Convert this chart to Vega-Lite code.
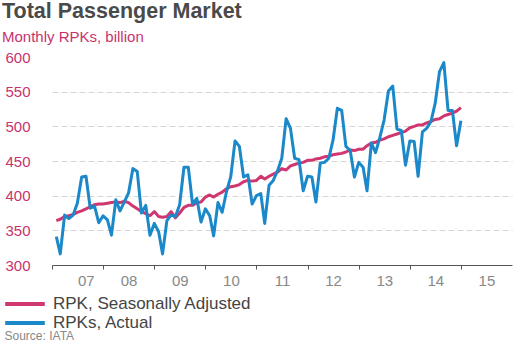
{
  "$schema": "https://vega.github.io/schema/vega-lite/v6.json",
  "autosize": "none",
  "width": 460,
  "height": 208,
  "padding": {"left": 52, "top": 57, "right": 8, "bottom": 90},
  "background": "white",
  "title": {
    "text": "Total Passenger Market",
    "subtitle": "Monthly RPKs, billion",
    "anchor": "start",
    "frame": "group",
    "dx": -50,
    "offset": 5,
    "font": "Liberation Sans",
    "fontSize": 21.5,
    "fontWeight": "bold",
    "color": "#4a4a4a",
    "subtitleFont": "Liberation Sans",
    "subtitleFontSize": 15,
    "subtitleColor": "#c7336e",
    "subtitlePadding": 8
  },
  "data": {
    "values": [
      {"date": "2007-01-01", "sa": 364, "actual": 341},
      {"date": "2007-02-01", "sa": 366, "actual": 316},
      {"date": "2007-03-01", "sa": 370, "actual": 372},
      {"date": "2007-04-01", "sa": 371, "actual": 367},
      {"date": "2007-05-01", "sa": 373, "actual": 372},
      {"date": "2007-06-01", "sa": 376, "actual": 389},
      {"date": "2007-07-01", "sa": 378, "actual": 427},
      {"date": "2007-08-01", "sa": 381, "actual": 428},
      {"date": "2007-09-01", "sa": 384, "actual": 382},
      {"date": "2007-10-01", "sa": 387, "actual": 385},
      {"date": "2007-11-01", "sa": 388, "actual": 361},
      {"date": "2007-12-01", "sa": 388, "actual": 371},
      {"date": "2008-01-01", "sa": 389, "actual": 365},
      {"date": "2008-02-01", "sa": 390, "actual": 343},
      {"date": "2008-03-01", "sa": 391, "actual": 394},
      {"date": "2008-04-01", "sa": 390, "actual": 378},
      {"date": "2008-05-01", "sa": 392, "actual": 391},
      {"date": "2008-06-01", "sa": 390, "actual": 404},
      {"date": "2008-07-01", "sa": 385, "actual": 439},
      {"date": "2008-08-01", "sa": 381, "actual": 435},
      {"date": "2008-09-01", "sa": 377, "actual": 375},
      {"date": "2008-10-01", "sa": 374, "actual": 386},
      {"date": "2008-11-01", "sa": 371, "actual": 343},
      {"date": "2008-12-01", "sa": 377, "actual": 360},
      {"date": "2009-01-01", "sa": 370, "actual": 348},
      {"date": "2009-02-01", "sa": 369, "actual": 316},
      {"date": "2009-03-01", "sa": 370, "actual": 364},
      {"date": "2009-04-01", "sa": 377, "actual": 372},
      {"date": "2009-05-01", "sa": 368, "actual": 370},
      {"date": "2009-06-01", "sa": 375, "actual": 387},
      {"date": "2009-07-01", "sa": 383, "actual": 441},
      {"date": "2009-08-01", "sa": 386, "actual": 441},
      {"date": "2009-09-01", "sa": 386, "actual": 388},
      {"date": "2009-10-01", "sa": 390, "actual": 396},
      {"date": "2009-11-01", "sa": 391, "actual": 362},
      {"date": "2009-12-01", "sa": 398, "actual": 381},
      {"date": "2010-01-01", "sa": 401, "actual": 371},
      {"date": "2010-02-01", "sa": 398, "actual": 342},
      {"date": "2010-03-01", "sa": 402, "actual": 390},
      {"date": "2010-04-01", "sa": 405, "actual": 376},
      {"date": "2010-05-01", "sa": 410, "actual": 406},
      {"date": "2010-06-01", "sa": 413, "actual": 427},
      {"date": "2010-07-01", "sa": 414, "actual": 479},
      {"date": "2010-08-01", "sa": 416, "actual": 471},
      {"date": "2010-09-01", "sa": 420, "actual": 427},
      {"date": "2010-10-01", "sa": 422, "actual": 430},
      {"date": "2010-11-01", "sa": 421, "actual": 388},
      {"date": "2010-12-01", "sa": 422, "actual": 400},
      {"date": "2011-01-01", "sa": 428, "actual": 403},
      {"date": "2011-02-01", "sa": 424, "actual": 360},
      {"date": "2011-03-01", "sa": 428, "actual": 415},
      {"date": "2011-04-01", "sa": 431, "actual": 422},
      {"date": "2011-05-01", "sa": 434, "actual": 436},
      {"date": "2011-06-01", "sa": 439, "actual": 454},
      {"date": "2011-07-01", "sa": 437, "actual": 511},
      {"date": "2011-08-01", "sa": 443, "actual": 497},
      {"date": "2011-09-01", "sa": 445, "actual": 454},
      {"date": "2011-10-01", "sa": 447, "actual": 452},
      {"date": "2011-11-01", "sa": 448, "actual": 407},
      {"date": "2011-12-01", "sa": 451, "actual": 428},
      {"date": "2012-01-01", "sa": 451, "actual": 427},
      {"date": "2012-02-01", "sa": 453, "actual": 391},
      {"date": "2012-03-01", "sa": 454, "actual": 447},
      {"date": "2012-04-01", "sa": 456, "actual": 448},
      {"date": "2012-05-01", "sa": 457, "actual": 454},
      {"date": "2012-06-01", "sa": 459, "actual": 480},
      {"date": "2012-07-01", "sa": 460, "actual": 526},
      {"date": "2012-08-01", "sa": 461, "actual": 523},
      {"date": "2012-09-01", "sa": 463, "actual": 471},
      {"date": "2012-10-01", "sa": 466, "actual": 465},
      {"date": "2012-11-01", "sa": 465, "actual": 427},
      {"date": "2012-12-01", "sa": 467, "actual": 448},
      {"date": "2013-01-01", "sa": 467, "actual": 441},
      {"date": "2013-02-01", "sa": 472, "actual": 407},
      {"date": "2013-03-01", "sa": 476, "actual": 476},
      {"date": "2013-04-01", "sa": 477, "actual": 462},
      {"date": "2013-05-01", "sa": 480, "actual": 484},
      {"date": "2013-06-01", "sa": 482, "actual": 509},
      {"date": "2013-07-01", "sa": 485, "actual": 551},
      {"date": "2013-08-01", "sa": 487, "actual": 558},
      {"date": "2013-09-01", "sa": 489, "actual": 496},
      {"date": "2013-10-01", "sa": 491, "actual": 494},
      {"date": "2013-11-01", "sa": 493, "actual": 444},
      {"date": "2013-12-01", "sa": 498, "actual": 479},
      {"date": "2014-01-01", "sa": 500, "actual": 478},
      {"date": "2014-02-01", "sa": 502, "actual": 428},
      {"date": "2014-03-01", "sa": 502, "actual": 492},
      {"date": "2014-04-01", "sa": 505, "actual": 497},
      {"date": "2014-05-01", "sa": 507, "actual": 507},
      {"date": "2014-06-01", "sa": 510, "actual": 533},
      {"date": "2014-07-01", "sa": 511, "actual": 579},
      {"date": "2014-08-01", "sa": 515, "actual": 592},
      {"date": "2014-09-01", "sa": 517, "actual": 523},
      {"date": "2014-10-01", "sa": 519, "actual": 523},
      {"date": "2014-11-01", "sa": 522, "actual": 472},
      {"date": "2014-12-01", "sa": 527, "actual": 508}
    ]
  },
  "transform": [
    {"fold": ["sa", "actual"], "as": ["series", "value"]}
  ],
  "mark": {"type": "line", "strokeWidth": 3, "strokeJoin": "round"},
  "encoding": {
    "x": {
      "field": "date",
      "type": "temporal",
      "timeUnit": "yearmonth",
      "bandPosition": 1,
      "scale": {"domain": [{"year": 2007, "month": 1, "date": 1}, {"year": 2016, "month": 1, "date": 1}]},
      "axis": {
        "values": [{"year": 2007}, {"year": 2008}, {"year": 2009}, {"year": 2010}, {"year": 2011}, {"year": 2012}, {"year": 2013}, {"year": 2014}, {"year": 2015}],
        "labelExpr": "timeFormat(datum.value, '%y')",
        "labelOffset": 25.5,
        "labelFont": "Liberation Sans",
        "labelFontSize": 15,
        "labelColor": "#888888",
        "labelPadding": 4,
        "tickSize": 4,
        "tickColor": "#555555",
        "domainColor": "#555555",
        "grid": false,
        "title": "Source: IATA",
        "titleX": -48,
        "titleY": 70,
        "titleAlign": "left",
        "titleAnchor": "start",
        "titleBaseline": "middle",
        "titleFont": "Liberation Sans",
        "titleFontSize": 12,
        "titleFontWeight": "normal",
        "titleColor": "#888888"
      }
    },
    "y": {
      "field": "value",
      "type": "quantitative",
      "scale": {"domain": [300, 600], "nice": false, "zero": false},
      "axis": {
        "values": [300, 350, 400, 450, 500, 550, 600],
        "title": null,
        "domain": false,
        "ticks": false,
        "tickSize": 0,
        "labelAlign": "left",
        "labelPadding": 47,
        "labelBaseline": "middle",
        "labelFont": "Liberation Sans",
        "labelFontSize": 15,
        "labelColor": "#c7336e",
        "grid": true,
        "gridColor": "#d6d6d6",
        "gridDash": [6, 3],
        "gridOpacity": {"condition": {"test": "datum.value == 600 || datum.value == 300", "value": 0}, "value": 1}
      }
    },
    "color": {
      "field": "series",
      "type": "nominal",
      "sort": ["sa", "actual"],
      "scale": {"domain": ["sa", "actual"], "range": ["#d0366f", "#1b88c9"]},
      "legend": {
        "orient": "none",
        "legendX": -38,
        "legendY": 236,
        "title": null,
        "symbolType": "M-2.2,0H2.2",
        "symbolSize": 324,
        "symbolStrokeWidth": 4,
        "labelExpr": "datum.value == 'sa' ? 'RPK, Seasonally Adjusted' : 'RPKs, Actual'",
        "labelFont": "Liberation Sans",
        "labelFontSize": 17,
        "labelColor": "#444444",
        "labelOffset": 17,
        "labelLimit": 400,
        "rowPadding": -2
      }
    }
  },
  "config": {"view": {"stroke": null}}
}
